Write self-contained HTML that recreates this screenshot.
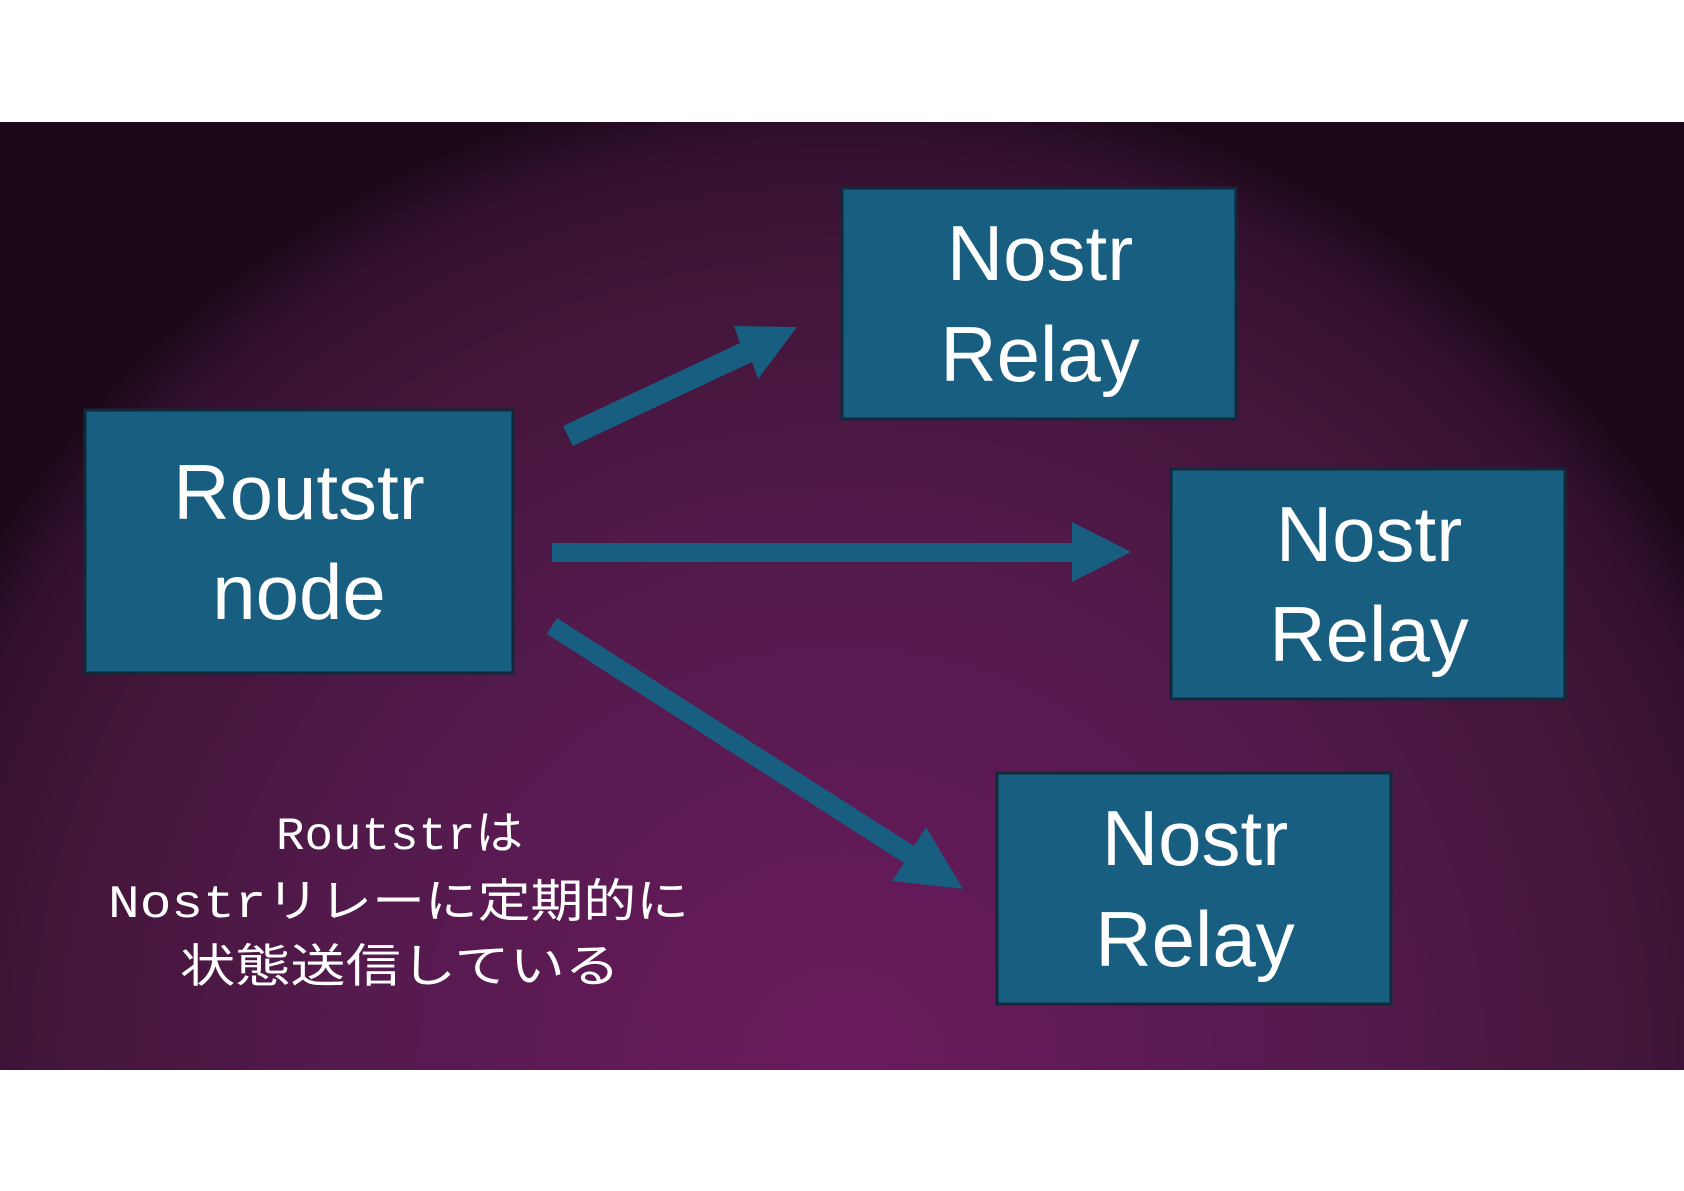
<!DOCTYPE html>
<html><head><meta charset="utf-8"><style>
html,body{margin:0;padding:0;background:#fff;}
svg{display:block}
</style></head><body>
<svg width="1684" height="1191" viewBox="0 0 1684 1191" xmlns="http://www.w3.org/2000/svg">
<defs>
<radialGradient id="bg" cx="842" cy="1070" r="1000" gradientUnits="userSpaceOnUse" gradientTransform="translate(842 1070) scale(1 1.0) translate(-842 -1070)">
<stop offset="0" stop-color="#6a1b5e"/>
<stop offset="0.5" stop-color="#541a4d"/>
<stop offset="0.8" stop-color="#421539"/>
<stop offset="0.93" stop-color="#331030"/>
<stop offset="1" stop-color="#1c0818"/>
</radialGradient>
</defs>
<rect x="0" y="0" width="1684" height="1191" fill="#fff"/>
<rect x="0" y="122" width="1684" height="948" fill="url(#bg)"/>
<g fill="#175e80" stroke="#112a3a" stroke-width="3">
<rect x="85" y="410" width="428" height="263"/>
<rect x="842" y="188" width="394" height="231"/>
<rect x="1171" y="469" width="394" height="230"/>
<rect x="997" y="773" width="394" height="231"/>
</g>
<g fill="#175e80">
<polygon points="563,426 740,343 734,326 797,327 758,379 752,362 573,446"/>
<rect x="552" y="543" width="522" height="19"/>
<polygon points="1072,522 1131,552 1072,582"/>
<polygon points="557,618 914,846 926,827 963,889 892,881 904,863 547,634"/>
</g>
<g fill="#fff" font-family="'Liberation Sans','DejaVu Sans',sans-serif" font-size="78" text-anchor="middle">
<text x="299" y="519">Routstr</text>
<text x="299" y="619">node</text>
<text x="1040" y="280">Nostr</text>
<text x="1040" y="381">Relay</text>
<text x="1369" y="561">Nostr</text>
<text x="1369" y="661">Relay</text>
<text x="1195" y="865">Nostr</text>
<text x="1195" y="966">Relay</text>
</g>
<g fill="#fff" font-family="'Liberation Mono','Noto Sans CJK JP',monospace" font-size="46">
<text x="276" y="849" textLength="247" lengthAdjust="spacingAndGlyphs">Routstrは</text>
<text x="108" y="917" textLength="581" lengthAdjust="spacingAndGlyphs">Nostrリレーに定期的に</text>
<text x="180" y="982" textLength="440" lengthAdjust="spacingAndGlyphs">状態送信している</text>
</g>
</svg>
</body></html>
